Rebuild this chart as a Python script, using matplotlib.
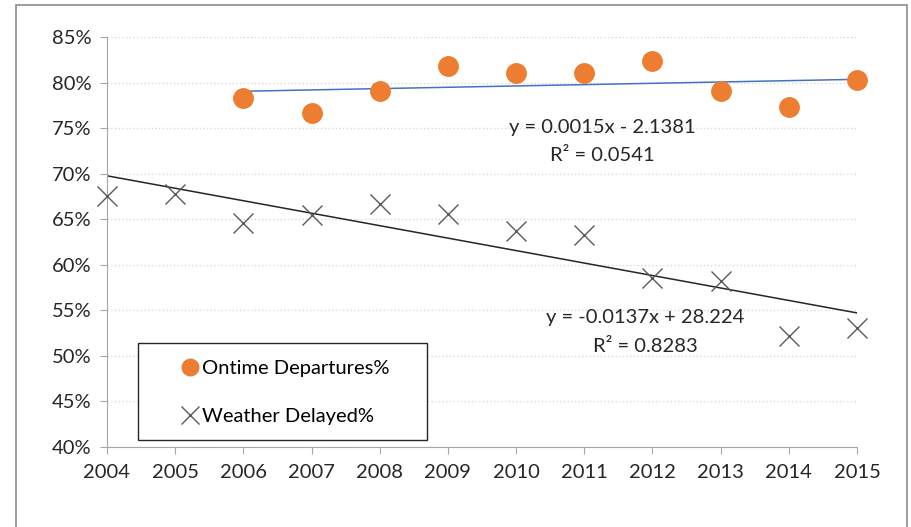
import numpy as np
import matplotlib.pyplot as plt
from matplotlib.patches import Rectangle
from matplotlib.ticker import FuncFormatter

plt.rcParams['font.family'] = ['Lato', 'DejaVu Sans']

# Data
years_on = np.array([2006, 2007, 2008, 2009, 2010, 2011, 2012, 2013, 2014, 2015])
ontime = np.array([78.3, 76.7, 79.1, 81.8, 81.0, 81.0, 82.4, 79.1, 77.3, 80.3]) / 100
years_wx = np.arange(2004, 2016)
weather = np.array([67.6, 67.8, 64.6, 65.5, 66.7, 65.6, 63.7, 63.3, 58.6, 58.2, 52.2, 53.1]) / 100

eq_on = ['y = 0.0015x - 2.1381', 'R\u00b2 = 0.0541']
eq_wx = ['y = -0.0137x + 28.224', 'R\u00b2 = 0.8283']

fig = plt.figure(figsize=(9.12, 5.27), dpi=100)
ax = fig.add_axes([107 / 912, 1 - 447 / 527, 750 / 912, 410 / 527])

# outer chart border
fig.patches.append(Rectangle((16 / 912, -0.05), 891 / 912, 1.05 - 5 / 527,
                             transform=fig.transFigure, fill=False,
                             edgecolor='#8c8c8c', linewidth=1.2))

orange = '#ED7D31'
grey = '#595959'
txt = '#262626'
fs = 14.5

ax.plot(years_on, ontime, 'o', color=orange, markersize=14, zorder=3,
        clip_on=False, label='Ontime Departures%')
ax.plot(years_wx, weather, 'x', color=grey, markersize=15, markeredgewidth=1.0,
        zorder=3, clip_on=False, label='Weather Delayed%')

# linear trend lines
p_on = np.polyfit(years_on, ontime, 1)
ax.plot(years_on[[0, -1]], np.polyval(p_on, years_on[[0, -1]]), color='#4472C4', lw=1.1)
p_wx = np.polyfit(years_wx, weather, 1)
ax.plot(years_wx[[0, -1]], np.polyval(p_wx, years_wx[[0, -1]]), color='#262626', lw=1.1)

ax.text(2011.27, 0.751, eq_on[0], ha='center', va='center', fontsize=fs, color=txt)
ax.text(2011.27, 0.720, eq_on[1], ha='center', va='center', fontsize=fs, color=txt)
ax.text(2011.9, 0.542, eq_wx[0], ha='center', va='center', fontsize=fs, color=txt)
ax.text(2011.9, 0.510, eq_wx[1], ha='center', va='center', fontsize=fs, color=txt)

ax.set_xlim(2004, 2015)
ax.set_ylim(0.40, 0.85)
ax.set_xticks(years_wx)
ax.set_yticks(np.arange(0.40, 0.851, 0.05))
ax.yaxis.set_major_formatter(FuncFormatter(lambda v, _: '{:.0f}%'.format(v * 100)))
ax.tick_params(axis='both', labelsize=fs, colors=txt, length=5, color='#a6a6a6')
ax.tick_params(axis='x', pad=7)
ax.tick_params(axis='y', pad=6)
ax.grid(axis='y', color='#d9d9d9', linestyle=':', linewidth=1)
ax.set_axisbelow(True)
for s in ['top', 'right']:
    ax.spines[s].set_visible(False)
for s in ['left', 'bottom']:
    ax.spines[s].set_color('#a6a6a6')

# legend box drawn separately, entries placed inside it
ax.add_patch(Rectangle((31 / 750, 7 / 410), 289 / 750, 97 / 410, transform=ax.transAxes,
                       fill=True, facecolor='white', edgecolor='#262626', lw=1.0, zorder=4))
leg = ax.legend(loc='upper left', bbox_to_anchor=(73 / 750, 1 - 323 / 410),
                fontsize=fs, frameon=False, handletextpad=0.1, handlelength=1.0,
                labelspacing=1.55, borderpad=0, borderaxespad=0, markerscale=0.85)
leg.set_zorder(5)

fig.savefig('out.png', dpi=100)
